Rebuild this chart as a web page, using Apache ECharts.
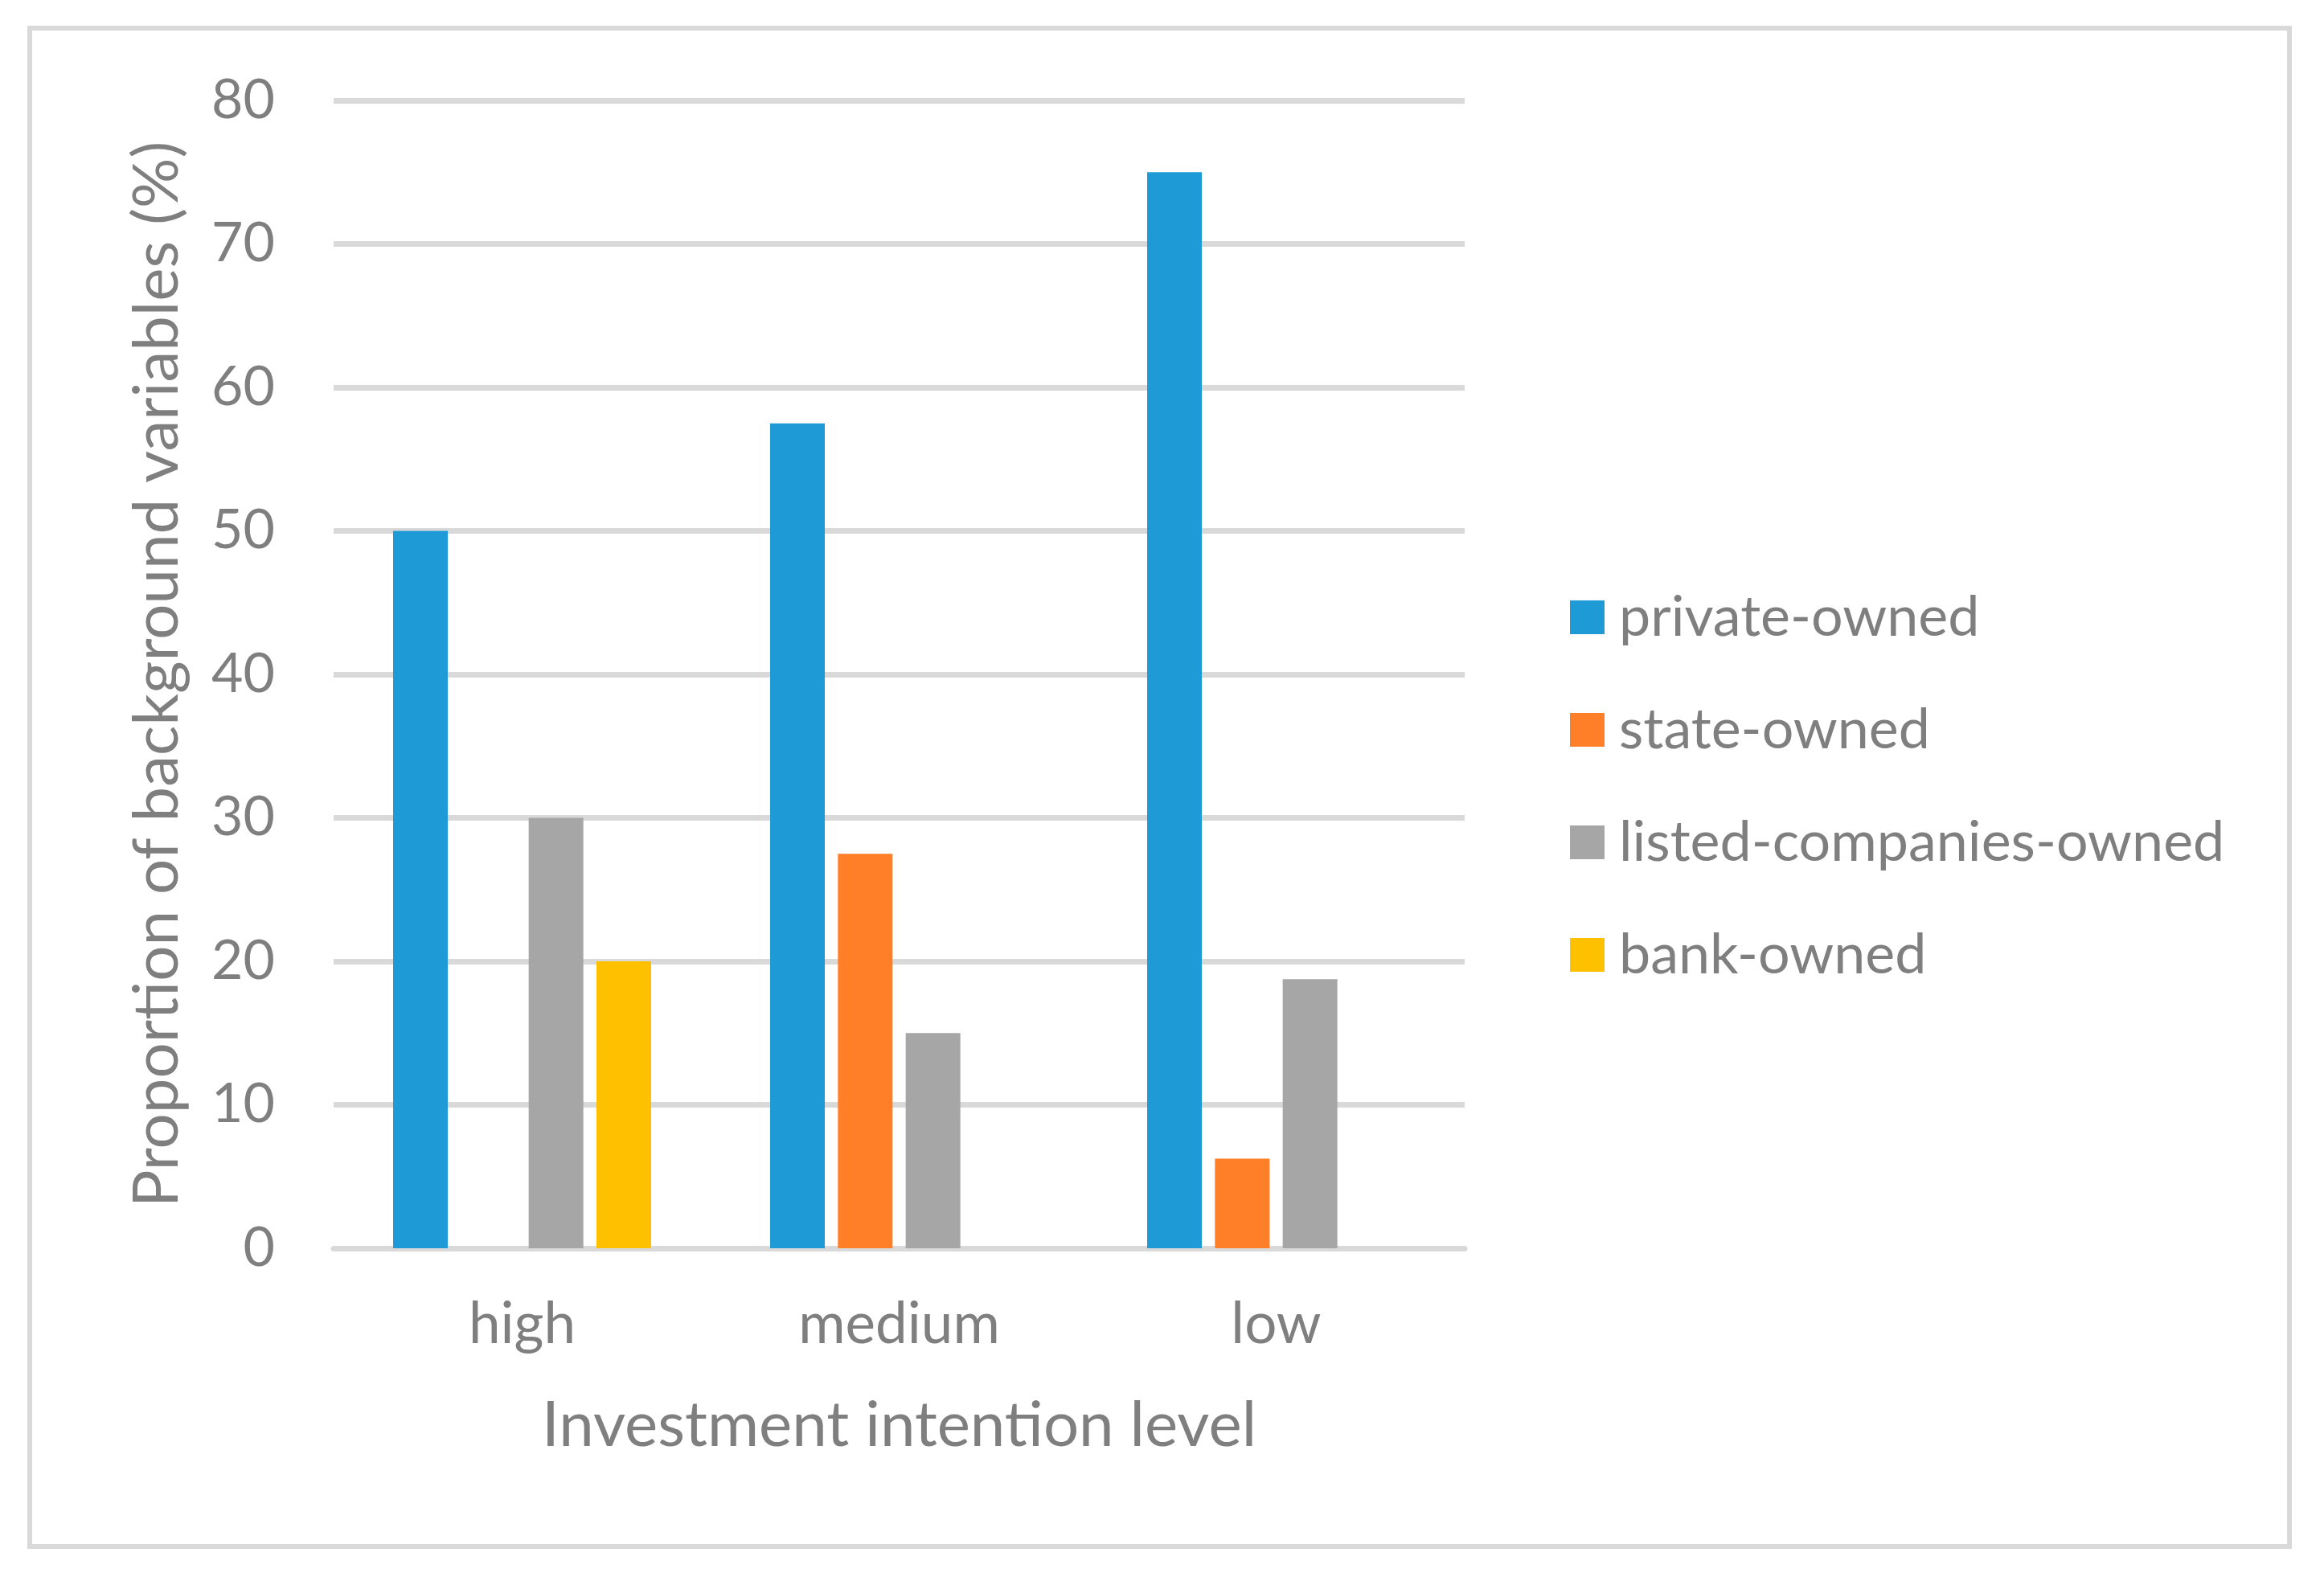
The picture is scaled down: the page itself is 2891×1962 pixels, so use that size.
<!DOCTYPE html>
<html>
<head>
<meta charset="utf-8">
<script src="https://cdn.jsdelivr.net/npm/echarts@6/dist/echarts.min.js"></script>
<style>html,body{margin:0;padding:0;background:#fff}#c{width:2891px;height:1962px}</style>
</head>
<body>
<div id="c"></div>
<script>
const categories = ['high', 'medium', 'low'];
const seriesNames = ['private-owned', 'state-owned', 'listed-companies-owned', 'bank-owned'];
const privateOwned = [50, 57.5, 75];
const stateOwned = [0, 27.5, 6.25];
const listedOwned = [30, 15, 18.75];
const bankOwned = [20, 0, 0];
const yTicks = [0, 10, 20, 30, 40, 50, 60, 70, 80];
const colors = ['#1E9BD7', '#FE7F27', '#A6A6A6', '#FFC000'];

const FONT = 'Lato';
const TXT = '#7F7F7F';
const chart = echarts.init(document.getElementById('c'), null, {renderer: 'canvas'});
const dataSets = [privateOwned, stateOwned, listedOwned, bankOwned];
chart.setOption({
  animation: false,
  color: colors,
  graphic: [{
    type: 'rect',
    shape: {x: 37, y: 35, width: 2811, height: 1889},
    style: {fill: 'none', stroke: '#D9D9D9', lineWidth: 6}
  }],
  grid: {left: 415, right: 1069, top: 125, bottom: 409, containLabel: false},
  legend: {
    orient: 'vertical',
    left: 1948,
    top: 728,
    itemWidth: 43,
    itemHeight: 42,
    itemGap: 70,
    icon: 'rect',
    data: seriesNames,
    textStyle: {fontFamily: FONT, fontSize: 70, color: TXT, lineHeight: 42, padding: [0, 0, 0, 13]}
  },
  xAxis: {
    type: 'category',
    data: categories,
    name: 'Investment intention level',
    nameLocation: 'middle',
    nameGap: 182,
    nameTextStyle: {fontFamily: FONT, fontSize: 78, color: TXT},
    axisLine: {show: true, lineStyle: {color: '#D9D9D9', width: 7}},
    axisTick: {show: false},
    axisLabel: {fontFamily: FONT, fontSize: 71, color: TXT, margin: 60, lineHeight: 71}
  },
  yAxis: {
    type: 'value',
    min: 0,
    max: 80,
    interval: 10,
    name: 'Proportion of background variables (%)',
    nameLocation: 'middle',
    nameRotate: 90,
    nameGap: 180,
    nameTextStyle: {fontFamily: FONT, fontSize: 78, color: TXT},
    axisLine: {show: false},
    axisTick: {show: false},
    splitLine: {lineStyle: {color: '#D9D9D9', width: 7}},
    axisLabel: {fontFamily: FONT, fontSize: 68, color: TXT, margin: 73,
      formatter: v => yTicks.includes(v) ? String(v) : ''}
  },
  series: seriesNames.map((n, i) => ({
    name: n,
    type: 'bar',
    data: dataSets[i],
    barWidth: 68,
    barGap: '24%',
    itemStyle: {color: colors[i]}
  }))
});
</script>
</body>
</html>
